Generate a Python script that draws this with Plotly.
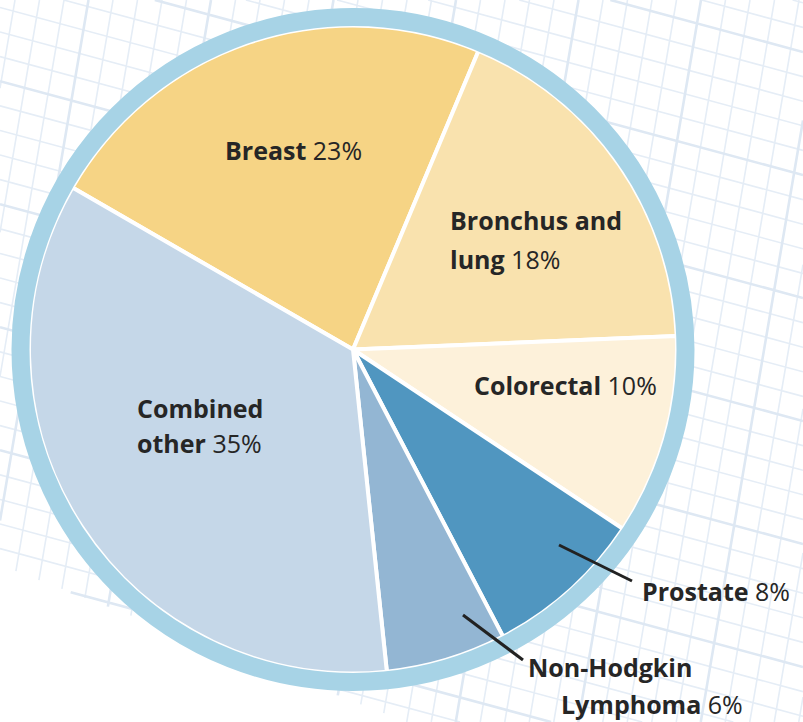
import plotly.graph_objects as go

W, H = 803, 722

# ---- data ----
categories = ["Breast", "Bronchus and lung", "Colorectal", "Prostate",
              "Non-Hodgkin Lymphoma", "Combined other"]
values = [23, 18, 10, 8, 6, 35]
colors = ["#F6D485", "#F9E2AE", "#FDF1DA", "#5096C0", "#93B6D3", "#C5D7E8"]

# label rows: (category index, bold text, show percent on this row)
label_rows = [
    (0, "Breast", True),
    (1, "Bronchus and", False),
    (1, "lung", True),
    (2, "Colorectal", True),
    (5, "Combined", False),
    (5, "other", True),
    (3, "Prostate", True),
    (4, "Non-Hodgkin", False),
    (4, "Lymphoma", True),
]
# layout positions (px, left edge / vertical middle)
label_pos = [(223, 150), (448, 220), (448, 259), (472, 385), (135, 408),
             (135, 443), (640, 591), (526, 667), (559, 704)]
leaders = {3: ((559, 545), (632, 581)), 4: ((463, 615), (523, 660))}

CX, CY, R = 353, 349.5, 324
RING = "#A7D3E6"
GRID = "#E5EDF6"
GRID_MAJOR = "#DEE8F3"


def px(x):
    return x / W


def py(y):
    return 1 - y / H


# ---- decorative background grid (clipped line segments) ----
def clip(p0, p1):
    x0, y0 = p0
    dx, dy = p1[0] - x0, p1[1] - y0
    t0, t1 = 0.0, 1.0
    cons = [(-1, 0, 0), (1, 0, W), (0, -1, 0), (0, 1, H),
            (-0.386, 1, 565)]
    for a, b, c in cons:
        num = c - (a * x0 + b * y0)
        den = a * dx + b * dy
        if abs(den) < 1e-12:
            if num < 0:
                return None
            continue
        t = num / den
        if den > 0:
            t1 = min(t1, t)
        else:
            t0 = max(t0, t)
        if t0 > t1:
            return None
    return ((x0 + t0 * dx, y0 + t0 * dy), (x0 + t1 * dx, y0 + t1 * dy))


minor_path, major_path = [], []
for k in range(-10, 60):
    yb = -164.8 + k * 24.6
    seg = clip((-50, yb - 0.27 * 50), (W + 50, yb + 0.27 * (W + 50)))
    if seg:
        s = f"M{px(seg[0][0])},{py(seg[0][1])} L{px(seg[1][0])},{py(seg[1][1])} "
        (major_path if k % 5 == 0 else minor_path).append(s)
for k in range(-40, 15):
    xb = 701 + k * 24.5
    seg = clip((xb + 0.17 * 50, -50), (xb - 0.17 * (H + 50), H + 50))
    if seg:
        s = f"M{px(seg[0][0])},{py(seg[0][1])} L{px(seg[1][0])},{py(seg[1][1])} "
        (major_path if k % 5 == 0 else minor_path).append(s)

shapes = [
    dict(type="path", path="".join(minor_path), xref="paper", yref="paper",
         line=dict(color=GRID, width=1.6), layer="below"),
    dict(type="path", path="".join(major_path), xref="paper", yref="paper",
         line=dict(color=GRID_MAJOR, width=2.6), layer="below"),
]
RR = 332.5
shapes.append(dict(type="circle", xref="paper", yref="paper",
                   x0=px(CX - RR), x1=px(CX + RR), y0=py(CY + RR), y1=py(CY - RR),
                   line=dict(color=RING, width=18), fillcolor="rgba(0,0,0,0)",
                   layer="above"))
for idx, (a, b) in leaders.items():
    shapes.append(dict(type="line", xref="paper", yref="paper",
                       x0=px(a[0]), y0=py(a[1]), x1=px(b[0]), y1=py(b[1]),
                       line=dict(color="#222222", width=3), layer="above"))

annotations = []
for (ci, txt, show_pct), (x, y) in zip(label_rows, label_pos):
    t = f"<b>{txt}</b>"
    if show_pct:
        t += f" {values[ci]}%"
    annotations.append(dict(text=t, x=px(x), y=py(y), xref="paper", yref="paper",
                            xanchor="left", yanchor="middle", showarrow=False,
                            font=dict(family="Open Sans", size=25, color="#262626")))

fig = go.Figure(go.Pie(
    labels=categories, values=values, sort=False, direction="clockwise",
    rotation=-60, textinfo="none", hoverinfo="skip",
    marker=dict(colors=colors, line=dict(color="white", width=4)),
    domain=dict(x=[px(CX - R), px(CX + R)], y=[py(CY + R), py(CY - R)]),
    showlegend=False,
))
fig.update_layout(width=W, height=H, margin=dict(l=0, r=0, t=0, b=0),
                  paper_bgcolor="white", plot_bgcolor="white",
                  shapes=shapes, annotations=annotations, showlegend=False)
fig.write_html("out.html", config={"displayModeBar": False},
               post_script="document.body.style.margin='0';"
                           "document.body.style.overflow='hidden';")
